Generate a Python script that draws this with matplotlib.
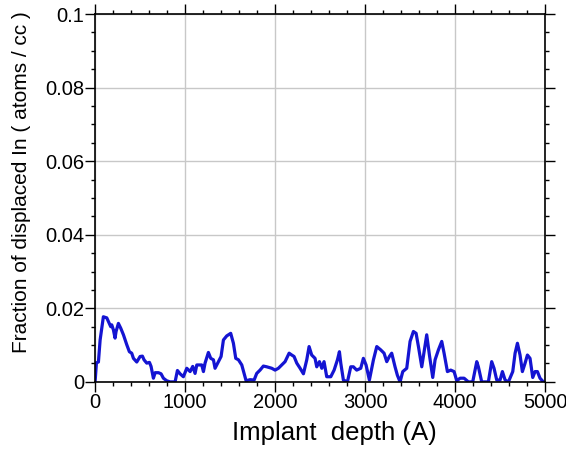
import matplotlib
matplotlib.use("Agg")
import matplotlib.pyplot as plt
from matplotlib.ticker import MultipleLocator, FuncFormatter
from matplotlib import font_manager

fams = {f.name for f in font_manager.fontManager.ttflist}
fam = ['Liberation Sans Narrow'] if 'Liberation Sans Narrow' in fams else ['Liberation Sans', 'DejaVu Sans']
plt.rcParams['font.family'] = fam + ['DejaVu Sans']

depth = [0, 15, 37, 56, 92, 130, 148, 174, 185, 204, 222, 233, 259, 285, 315, 352, 381, 407, 426,
         463, 500, 526, 544, 574, 604, 622, 648, 667, 704, 733, 759, 796, 833, 889, 915, 944, 981,
         1019, 1056, 1085, 1111, 1130, 1185, 1204, 1222, 1259, 1285, 1315, 1333, 1370, 1400, 1426,
         1463, 1507, 1537, 1563, 1593, 1630, 1656, 1678, 1722, 1767, 1796, 1833, 1870, 1907, 1963,
         2000, 2037, 2074, 2111, 2156, 2185, 2211, 2241, 2278, 2315, 2352, 2378, 2407, 2444, 2463,
         2493, 2519, 2544, 2574, 2619, 2656, 2693, 2715, 2730, 2759, 2804, 2841, 2870, 2907, 2952,
         2981, 3011, 3048, 3093, 3130, 3174, 3211, 3241, 3270, 3296, 3333, 3359, 3389, 3419, 3463,
         3500, 3537, 3567, 3593, 3630, 3659, 3685, 3715, 3752, 3778, 3815, 3852, 3878, 3915, 3952,
         3989, 4019, 4056, 4100, 4148, 4196, 4241, 4259, 4296, 4370, 4407, 4433, 4463, 4500, 4526,
         4556, 4593, 4641, 4667, 4693, 4722, 4748, 4778, 4804, 4833, 4863, 4889, 4915, 4944, 4981]
fraction = [0.0, 0.0052, 0.0054, 0.0114, 0.0177, 0.0174, 0.0164, 0.0150, 0.0155, 0.0141, 0.0119,
            0.0137, 0.0159, 0.0146, 0.0128, 0.0101, 0.0082, 0.0078, 0.0064, 0.0054, 0.0069, 0.0070,
            0.0060, 0.0051, 0.0053, 0.0042, 0.0010, 0.0025, 0.0025, 0.0022, 0.0010, 0.0003, 0.0,
            0.0, 0.0031, 0.0022, 0.0014, 0.0037, 0.0028, 0.0042, 0.0023, 0.0046, 0.0046, 0.0028,
            0.0051, 0.0080, 0.0064, 0.0060, 0.0037, 0.0055, 0.0069, 0.0114, 0.0125, 0.0132, 0.0105,
            0.0064, 0.0060, 0.0046, 0.0023, 0.0003, 0.0006, 0.0005, 0.0023, 0.0032, 0.0043, 0.0041,
            0.0037, 0.0032, 0.0037, 0.0046, 0.0055, 0.0078, 0.0073, 0.0069, 0.0051, 0.0037, 0.0022,
            0.0060, 0.0096, 0.0073, 0.0064, 0.0041, 0.0055, 0.0037, 0.0055, 0.0014, 0.0014, 0.0032,
            0.0060, 0.0082, 0.0051, 0.0005, 0.0, 0.0041, 0.0041, 0.0032, 0.0037, 0.0064, 0.0046,
            0.0005, 0.0060, 0.0096, 0.0087, 0.0078, 0.0055, 0.0069, 0.0078, 0.0041, 0.0018, 0.0,
            0.0028, 0.0037, 0.0110, 0.0137, 0.0132, 0.0096, 0.0041, 0.0087, 0.0128, 0.0073, 0.0012,
            0.0060, 0.0087, 0.0110, 0.0078, 0.0028, 0.0032, 0.0028, 0.0003, 0.0010, 0.0010, 0.0,
            0.0, 0.0055, 0.0041, 0.0, 0.0, 0.0055, 0.0037, 0.0005, 0.0005, 0.0028, 0.0005, 0.0,
            0.0028, 0.0078, 0.0105, 0.0073, 0.0028, 0.0051, 0.0073, 0.0064, 0.0012, 0.0028, 0.0028,
            0.0010, 0.0]

x_ticks = [0, 1000, 2000, 3000, 4000, 5000]
y_ticks = [0, 0.02, 0.04, 0.06, 0.08, 0.1]

fig = plt.figure(figsize=(5.66, 4.53), dpi=100)
ax = fig.add_axes([0.168, 0.157, 0.795, 0.812])
ax.plot(depth, fraction, color='#1414d2', lw=2.3)
ax.set_xlim(0, 5000)
ax.set_ylim(0, 0.1)
ax.set_xticks(x_ticks)
ax.set_yticks(y_ticks)
ax.xaxis.set_minor_locator(MultipleLocator(200))
ax.yaxis.set_minor_locator(MultipleLocator(0.005))
ax.yaxis.set_major_formatter(FuncFormatter(lambda v, p: '0' if v == 0 else ('%g' % v)))
ax.grid(True, which='major', color='#c8c8c8', lw=1.0)
ax.set_axisbelow(True)
ax.tick_params(which='both', direction='out', top=True, right=True, labelsize=14.5,
               width=1.0, colors='black', pad=1)
ax.tick_params(which='major', length=7)
ax.tick_params(which='minor', length=3)
for s in ax.spines.values():
    s.set_linewidth(1.2)
ax.set_xlabel('Implant  depth (A)', fontsize=18.5)
ax.xaxis.set_label_coords(0.531, -0.105)
ax.set_ylabel('Fraction of displaced In ( atoms / cc )', fontsize=15)
ax.yaxis.set_label_coords(-0.142, 0.543)
fig.savefig('out.png', dpi=100)
